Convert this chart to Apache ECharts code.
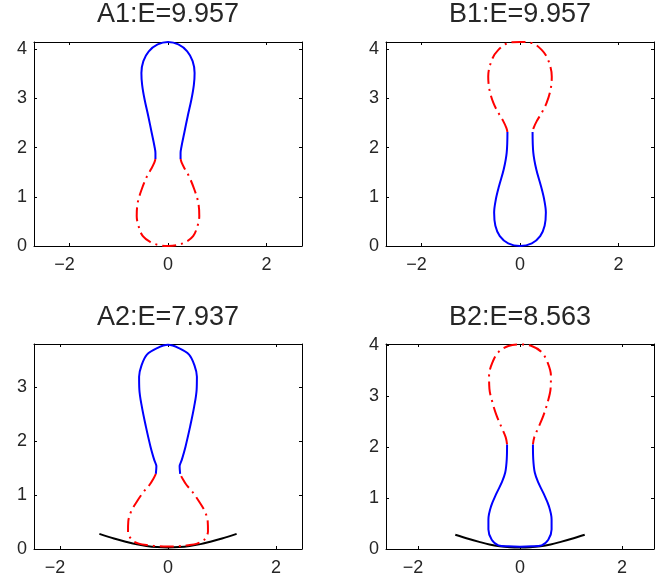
<!DOCTYPE html>
<html>
<head>
<meta charset="utf-8">
<script src="https://cdn.jsdelivr.net/npm/echarts@6/dist/echarts.min.js"></script>
<style>
  html, body { margin: 0; padding: 0; background: #fff; }
  #chart { width: 662px; height: 582px; }
</style>
</head>
<body>
<div id="chart"></div>
<script>
// Panel titles
const titles = ['A1:E=9.957', 'B1:E=9.957', 'A2:E=7.937', 'B2:E=8.563'];

// Tick values
const xTicks = [-2, 0, 2];
const yTicks = [0, 1, 2, 3, 4];

// Right-half profiles (x >= 0), each listed from the point on the symmetry axis
// out to the point where the solid and dash-dot parts meet.
// A1: solid upper bulb, dash-dot lower bulb
const a1SolidY = [4.15, 4.10, 3.96, 3.76, 3.52, 3.28, 2.98, 2.64, 2.30, 2.03, 1.89, 1.77];
const a1SolidX = [0, 0.21, 0.39, 0.50, 0.54, 0.525, 0.475, 0.40, 0.33, 0.275, 0.255, 0.255];
const a1DashY = [0, 0.015, 0.08, 0.20, 0.41, 0.61, 0.88, 1.15, 1.42, 1.57, 1.69, 1.77];
const a1DashX = [0, 0.17, 0.355, 0.51, 0.60, 0.635, 0.615, 0.535, 0.425, 0.34, 0.28, 0.255];

// B1: dash-dot upper bulb, solid lower bulb
const b1DashY = [4.15, 4.13, 3.99, 3.79, 3.45, 3.18, 2.91, 2.71, 2.54, 2.40, 2.32];
const b1DashX = [0, 0.24, 0.44, 0.57, 0.645, 0.62, 0.54, 0.44, 0.34, 0.275, 0.255];
const b1SolidY = [0, 0.054, 0.20, 0.41, 0.68, 0.95, 1.22, 1.56, 1.90, 2.32];
const b1SolidX = [0, 0.24, 0.41, 0.50, 0.525, 0.49, 0.425, 0.33, 0.27, 0.255];

// A2: solid upper bulb, dash-dot lower bulb
const a2SolidY = [3.78, 3.72, 3.60, 3.40, 3.19, 2.95, 2.64, 2.27, 1.90, 1.65, 1.53, 1.39];
const a2SolidX = [0, 0.20, 0.39, 0.49, 0.535, 0.53, 0.485, 0.41, 0.325, 0.255, 0.215, 0.225];
const a2DashY = [0.045, 0.05, 0.068, 0.10, 0.17, 0.33, 0.51, 0.70, 0.88, 1.06, 1.19, 1.31, 1.39];
const a2DashX = [0, 0.17, 0.36, 0.54, 0.67, 0.74, 0.735, 0.68, 0.575, 0.45, 0.34, 0.265, 0.225];

// B2: dash-dot upper bulb, solid lower bulb
const b2DashY = [4.01, 3.98, 3.86, 3.66, 3.40, 3.14, 2.87, 2.61, 2.38, 2.19, 2.05];
const b2DashX = [0, 0.228, 0.424, 0.54, 0.607, 0.60, 0.54, 0.457, 0.36, 0.28, 0.254];
const b2SolidY = [0.046, 0.052, 0.072, 0.18, 0.38, 0.58, 0.84, 1.10, 1.30, 1.50, 1.76, 2.05];
const b2SolidX = [0, 0.228, 0.424, 0.555, 0.62, 0.62, 0.567, 0.457, 0.36, 0.29, 0.26, 0.254];

// Curved substrate under the lower panels
const baseX = [-1.27, -1.0, -0.8, -0.6, -0.4, -0.2, 0, 0.2, 0.4, 0.6, 0.8, 1.0, 1.27];
const baseY = [0.28, 0.195, 0.14, 0.09, 0.055, 0.035, 0.03, 0.035, 0.055, 0.09, 0.14, 0.195, 0.28];

// Axis limits per panel (equal aspect)
const xLims = [2.72, 2.72, 2.48, 2.63];
const yMaxs = [4.15, 4.15, 3.796, 4.02];

// Panel boxes in pixels: [left, top, width, height]
const boxes = [
  [34, 42, 268, 204],
  [386, 42, 268, 204],
  [34, 344, 268, 205],
  [386, 344, 268, 205]
];

const FONT = 'Liberation Sans, Arial, Helvetica, sans-serif';
const TEXT = '#262626';
const BLUE = '#0000ff';
const RED = '#ff0000';
const DASHDOT = [14, 5, 2, 5];
const TICK_FS = 18;

// Mirror a right-half profile into a path from the left end, through the axis, to the right end
function arc(xs, ys) {
  const left = xs.map((x, i) => [-x, ys[i]]).reverse();
  const right = xs.map((x, i) => [x, ys[i]]).slice(1);
  return left.concat(right);
}
function pairs(xs, ys) {
  return xs.map((x, i) => [x, ys[i]]);
}
// Negative tick labels: the minus sign hangs to the left of the centred digits
const xFmt = v => (v < 0 ? '{n|\u2212' + Math.abs(v) + '}' : String(v));

const grids = [], xAxes = [], yAxes = [], series = [], titleList = [];

boxes.forEach((b, g) => {
  grids.push({ left: b[0], top: b[1], width: b[2], height: b[3], show: false });
  const lim = xLims[g], ymax = yMaxs[g];
  const yt = yTicks.filter(v => v <= ymax);
  const lineCommon = { show: true, onZero: false, lineStyle: { color: '#000', width: 1 } };
  const tickCommon = (vals) => ({ show: true, inside: true, length: 3, customValues: vals, lineStyle: { color: '#000', width: 1 } });
  xAxes.push({
    type: 'value', gridIndex: g, position: 'bottom', min: -lim, max: lim,
    axisLine: lineCommon, axisTick: tickCommon(xTicks),
    axisLabel: {
      show: true, customValues: xTicks, formatter: xFmt, color: TEXT,
      fontSize: TICK_FS, fontFamily: FONT, margin: 10,
      rich: { n: { fontSize: TICK_FS, fontFamily: FONT, color: TEXT, padding: [0, 10, 0, 0] } }
    },
    splitLine: { show: false }
  });
  xAxes.push({
    type: 'value', gridIndex: g, position: 'top', min: -lim, max: lim,
    axisLine: lineCommon, axisTick: tickCommon(xTicks),
    axisLabel: { show: false }, splitLine: { show: false }
  });
  yAxes.push({
    type: 'value', gridIndex: g, position: 'left', min: 0, max: ymax,
    axisLine: lineCommon, axisTick: tickCommon(yt),
    axisLabel: { show: true, customValues: yt, color: TEXT, fontSize: TICK_FS, fontFamily: FONT, margin: 7 },
    splitLine: { show: false }
  });
  yAxes.push({
    type: 'value', gridIndex: g, position: 'right', min: 0, max: ymax,
    axisLine: lineCommon, axisTick: tickCommon(yt),
    axisLabel: { show: false }, splitLine: { show: false }
  });
  titleList.push({
    text: titles[g], left: b[0] + b[2] / 2, top: g < 2 ? 1 : 304, textAlign: 'center', padding: 0,
    textStyle: { fontSize: 27, fontWeight: 'normal', color: TEXT, fontFamily: FONT }
  });
});

function curve(g, data, color, type) {
  return {
    type: 'line', xAxisIndex: 2 * g, yAxisIndex: 2 * g, data: data,
    showSymbol: false, smooth: 0.35, silent: true, clip: false,
    lineStyle: { color: color, width: 2, type: type }
  };
}

// A1
series.push(curve(0, arc(a1SolidX, a1SolidY), BLUE, 'solid'));
series.push(curve(0, arc(a1DashX, a1DashY), RED, DASHDOT));
// B1
series.push(curve(1, arc(b1DashX, b1DashY), RED, DASHDOT));
series.push(curve(1, arc(b1SolidX, b1SolidY), BLUE, 'solid'));
// A2
series.push(curve(2, pairs(baseX, baseY), '#000', 'solid'));
series.push(curve(2, arc(a2SolidX, a2SolidY), BLUE, 'solid'));
series.push(curve(2, arc(a2DashX, a2DashY), RED, DASHDOT));
// B2
series.push(curve(3, pairs(baseX, baseY), '#000', 'solid'));
series.push(curve(3, arc(b2DashX, b2DashY), RED, DASHDOT));
series.push(curve(3, arc(b2SolidX, b2SolidY), BLUE, 'solid'));

const chart = echarts.init(document.getElementById('chart'), null, { renderer: 'canvas' });
chart.setOption({
  animation: false,
  backgroundColor: '#fff',
  title: titleList,
  grid: grids,
  xAxis: xAxes,
  yAxis: yAxes,
  series: series
});
</script>
</body>
</html>
